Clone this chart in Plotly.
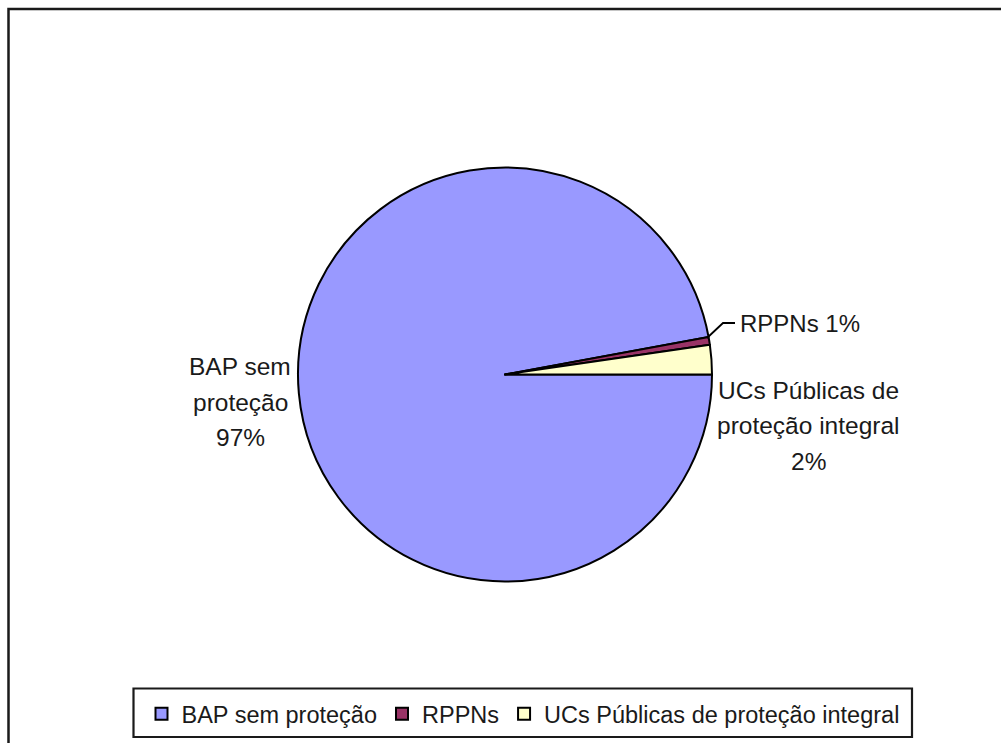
import plotly.graph_objects as go

W, H = 1001, 743

categories = ["BAP sem proteção", "RPPNs", "UCs Públicas de proteção integral"]
values = [97.1, 0.6, 2.3]
colors = ["#9999FF", "#993366", "#FFFFCC"]

FONT = "Liberation Sans, Arial, sans-serif"
TXT = "#1a1a1a"


def px(x):
    return x / W


def py(y):
    return 1 - y / H


cx, cy, r = 505, 374.5, 207

fig = go.Figure(
    go.Pie(
        labels=categories,
        values=values,
        sort=False,
        direction="clockwise",
        rotation=90,
        marker=dict(colors=colors, line=dict(color="#000000", width=2)),
        textinfo="none",
        hoverinfo="label+percent",
        domain=dict(x=[px(cx - r), px(cx + r)], y=[py(cy + r), py(cy - r)]),
    )
)

total = sum(values)
pct = [f"{round(v / total * 100)}%" for v in values]

annotations = []


def add_lines(lines, xc, ys, anchor="center", size=24.5):
    for t, yy in zip(lines, ys):
        annotations.append(
            dict(
                x=px(xc), y=py(yy), xref="paper", yref="paper",
                text=t, showarrow=False, xanchor=anchor, yanchor="middle",
                font=dict(family=FONT, size=size, color=TXT),
            )
        )


add_lines(["BAP sem", "proteção", pct[0]], 240, [366, 402, 437])
add_lines([f"RPPNs {pct[1]}"], 738, [323], anchor="left", size=24)
add_lines(["UCs Públicas de", "proteção integral", pct[2]], 808, [390, 426, 461])

shapes = [
    # outer chart frame
    dict(type="rect", xref="paper", yref="paper",
         x0=px(8.5), y0=py(770), x1=px(1030), y1=py(9),
         line=dict(color="#1a1a1a", width=2.5)),
    # legend frame
    dict(type="rect", xref="paper", yref="paper",
         x0=px(133.5), y0=py(737), x1=px(912), y1=py(688.5),
         line=dict(color="#1a1a1a", width=2.2)),
    # leader line for RPPNs label
    dict(type="path", xref="paper", yref="paper",
         path=f"M {px(707)},{py(338)} L {px(723)},{py(323)} L {px(735)},{py(323)}",
         line=dict(color="#000000", width=1.8)),
]

fig.update_layout(
    width=W, height=H,
    margin=dict(l=0, r=0, t=0, b=0),
    paper_bgcolor="white",
    plot_bgcolor="white",
    annotations=annotations,
    shapes=shapes,
    showlegend=True,
    legend=dict(
        orientation="h",
        x=px(523), xanchor="center",
        y=py(714), yanchor="middle",
        font=dict(family=FONT, size=23.5, color=TXT),
        bgcolor="rgba(0,0,0,0)",
        borderwidth=0,
        itemwidth=30,
        tracegroupgap=0,
    ),
)

fig.write_html("out.html")
